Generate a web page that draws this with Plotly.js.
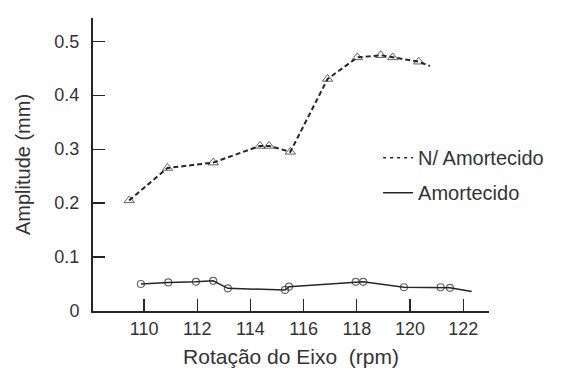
<!DOCTYPE html>
<html><head><meta charset="utf-8">
<script src="https://cdn.plot.ly/plotly-3.0.1.min.js"></script>
<style>body{margin:0;background:#fff}#chart{width:566px;height:376px}</style>
</head><body><div id="chart"></div>
<script>
// N/ Amortecido (undamped) — triangles, dashed
const undampedRpm = [109.44, 110.88, 112.6, 114.36, 114.7, 115.5, 116.9, 118.02, 118.9, 119.35, 120.33, 120.75];
const undampedAmp = [0.205, 0.265, 0.275, 0.306, 0.306, 0.295, 0.43, 0.47, 0.474, 0.47, 0.462, 0.454];
const undampedMarkerSize = [9, 9, 9, 9, 9, 9, 9, 9, 9, 9, 9, 0];
// Amortecido (damped) — circles, solid
const dampedRpm = [109.88, 110.91, 111.95, 112.6, 113.15, 115.3, 115.45, 117.96, 118.24, 119.77, 121.15, 121.5, 122.32];
const dampedAmp = [0.05, 0.053, 0.054, 0.056, 0.042, 0.039, 0.045, 0.054, 0.054, 0.044, 0.044, 0.043, 0.036];
const dampedMarkerSize = [7, 7, 7, 7, 7, 7, 7, 7, 7, 7, 7, 7, 0];
const xTicks = [110, 112, 114, 116, 118, 120, 122];
const yTicks = [0, 0.1, 0.2, 0.3, 0.4, 0.5];
const yTickText = ['0', '0.1', '0.2', '0.3', '0.4', '0.5'];
const legendNames = ['N/ Amortecido', 'Amortecido'];

const ink = '#262626';
const traces = [
  {x: undampedRpm, y: undampedAmp, mode: 'lines+markers', showlegend: false,
   line: {color: ink, width: 2, dash: '5px,3px'},
   marker: {symbol: 'triangle-up-open', size: undampedMarkerSize, color: ink, line: {width: 1}}},
  {x: dampedRpm, y: dampedAmp, mode: 'lines+markers', showlegend: false,
   line: {color: ink, width: 1.5},
   marker: {symbol: 'circle-open', size: dampedMarkerSize, color: ink, line: {width: 1.2}}},
  {x: [null], y: [null], mode: 'lines', name: legendNames[0], legendgroup: 'a',
   line: {color: ink, width: 1.5, dash: '3px,4px'}},
  {x: [null], y: [null], mode: 'lines', name: legendNames[1], legendgroup: 'b',
   line: {color: ink, width: 1.5}}
];
const layout = {
  width: 566, height: 376,
  margin: {l: 93, r: 77, t: 18, b: 65},
  paper_bgcolor: '#fff', plot_bgcolor: '#fff',
  font: {family: 'Liberation Sans, Arial, sans-serif', color: '#333', size: 17},
  xaxis: {range: [108.08, 122.97], tickvals: xTicks, ticks: 'inside', ticklen: 12, tickwidth: 1.2,
          tickcolor: ink, showline: true, linecolor: ink, linewidth: 2, showgrid: false, zeroline: false,
          tickfont: {size: 18}, ticklabelstandoff: 0,
          title: {text: 'Rotação do Eixo\u00a0\u00a0(rpm)', font: {size: 21}, standoff: 12}},
  yaxis: {range: [0, 0.543], tickvals: yTicks, ticktext: yTickText, ticks: 'inside', ticklen: 12, tickwidth: 1.2,
          tickcolor: ink, showline: true, linecolor: ink, linewidth: 2, showgrid: false, zeroline: false,
          tickfont: {size: 18}, ticklabelstandoff: 8,
          title: {text: 'Amplitude (mm)', font: {size: 20}, standoff: 18}},
  legend: {x: 0.72, y: 0.59, xanchor: 'left', yanchor: 'top', bgcolor: 'rgba(0,0,0,0)',
           font: {size: 20, color: '#333'}, traceorder: 'grouped', tracegroupgap: 6, itemwidth: 30},
  showlegend: true
};
Plotly.newPlot('chart', traces, layout, {staticPlot: true, displayModeBar: false});
</script></body></html>
